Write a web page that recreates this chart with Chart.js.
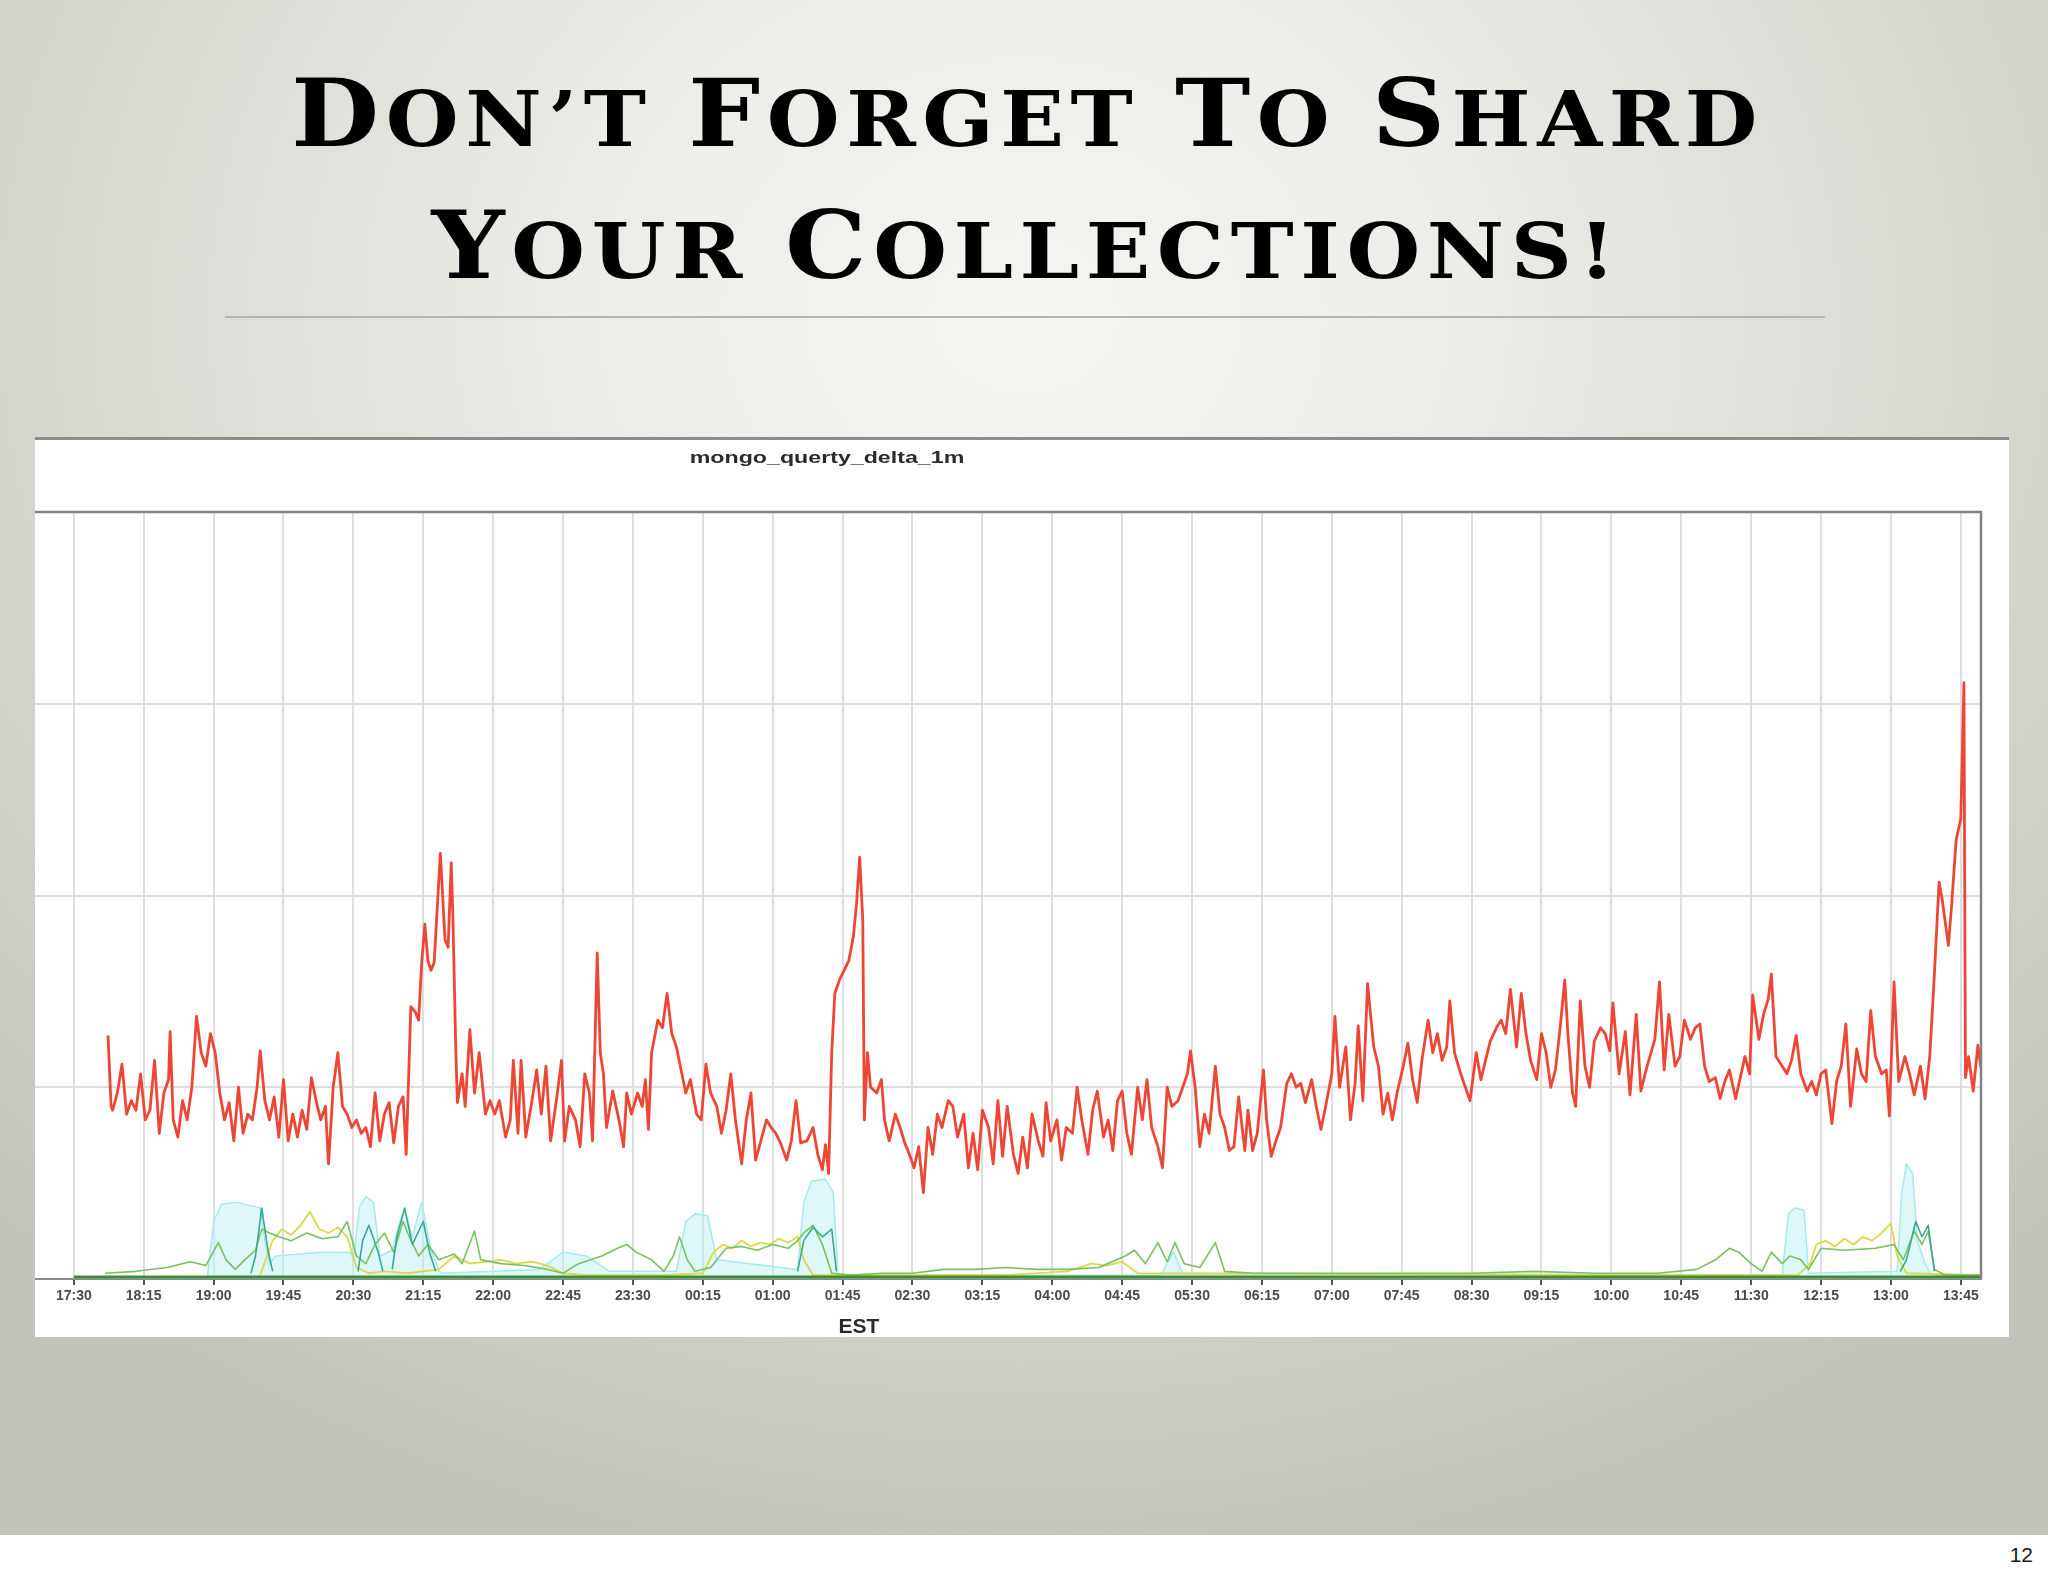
<!DOCTYPE html>
<html>
<head>
<meta charset="utf-8">
<script src="https://cdn.jsdelivr.net/npm/chart.js@4.4.1/dist/chart.umd.min.js"></script>
<style>
  html, body { margin: 0; padding: 0; }
  body {
    width: 2048px; height: 1576px; position: relative; overflow: hidden;
    background: radial-gradient(ellipse 72% 80% at 50% 20%, #f4f4f1 0%, #ecece8 30%, #d8d8d1 65%, #c3c3bb 100%);
  }
  .title { position: absolute; left: 0; top: 0; width: 2048px; text-align: center; white-space: nowrap; }
  .title .line {
    display: inline-block; font-family: "DejaVu Serif", serif; font-weight: bold;
    font-size: 77px; line-height: 1; text-transform: uppercase; color: #000;
    transform-origin: 50% 50%;
  }
  .title .big { font-size: 1.21em; }
  #rule { position: absolute; left: 225px; top: 316px; width: 1600px; height: 2px; background: #b4b4b0; }
  #panel {
    position: absolute; left: 35px; top: 437px; width: 1974px; height: 900px;
    background: #fff; border-top: 3px solid #8c8c8c; box-sizing: border-box;
  }
  #chart { position: absolute; left: 35px; top: 439px; }
  .lbl { position: absolute; top: 0; white-space: nowrap; font-family: "Liberation Sans", Arial, sans-serif; }
  #ctitle { left: 627px; width: 400px; text-align: center; font-size: 16px; font-weight: bold; color: #2a2a2a; transform: scaleX(1.45); }
  #est { left: 759px; width: 200px; text-align: center; font-size: 21px; font-weight: bold; color: #2a2a2a; }
  #foot { position: absolute; left: 0; top: 1535px; width: 2048px; height: 41px; background: #fff; }
  #pagenum { right: 15px; font-size: 21px; color: #1a1a1a; }
</style>
</head>
<body>

<div class="title" id="t1"><span class="line"><span class="big">D</span>on’t <span class="big">F</span>orget <span class="big">T</span>o <span class="big">S</span>hard</span></div>
<div class="title" id="t2"><span class="line"><span class="big">Y</span>our <span class="big">C</span>ollections!</span></div>
<div id="rule"></div>

<div id="panel"></div>
<canvas id="chart" width="1974" height="898"></canvas>
<div class="lbl" id="ctitle">mongo_querty_delta_1m</div>
<div class="lbl" id="est">EST</div>

<div id="foot"></div>
<div class="lbl" id="pagenum">12</div>

<script>
// x = minutes after 17:30, y = queries (grid every 100)
const tickLabels = ['17:30','18:15','19:00','19:45','20:30','21:15','22:00','22:45','23:30','00:15','01:00','01:45','02:30','03:15',
  '04:00','04:45','05:30','06:15','07:00','07:45','08:30','09:15','10:00','10:45','11:30','12:15','13:00','13:45']

const redMin = [
  22,24,25,28,31,34,37,40,43,46,49,52,55,58,61,62,64,67,70,73,76,79,82,85,88,
  91,94,97,100,103,106,109,112,115,118,120,123,126,129,132,135,138,141,144,147,150,153,156,159,162,164,
  167,170,173,176,179,182,185,188,191,194,197,200,203,206,209,212,214,217,220,222,224,226,228,230,232,236,239,241,243,244,
  246,247,250,252,255,258,261,265,268,271,274,278,281,283,286,288,291,295,298,301,304,307,311,314,316,
  319,323,326,329,332,334,337,339,341,343,347,351,354,356,359,363,366,368,370,372,376,379,382,385,388,391,
  394,397,401,404,407,410,414,417,420,423,426,430,433,436,439,443,446,449,452,455,459,462,465,468,
  472,476,479,482,484,486,488,490,493,496,499,502,504,506,508,509,511,513,517,520,522,525,529,532,535,
  538,541,544,547,550,553,556,559,563,566,569,573,576,579,582,585,589,592,595,598,601,605,608,611,
  614,617,621,624,626,629,633,636,639,643,646,649,653,656,659,663,666,669,672,675,678,681,685,688,
  691,694,698,701,704,707,711,714,717,719,722,725,728,731,735,738,741,744,747,750,754,756,759,762,
  766,768,771,774,777,781,784,787,790,793,797,800,803,806,810,812,815,819,822,825,827,830,833,837,840,
  843,846,849,852,856,859,862,865,868,872,875,878,881,884,886,889,893,896,899,903,906,909,912,916,
  919,922,925,929,932,935,938,942,945,948,951,954,957,960,962,965,967,970,973,976,979,983,986,989,991,
  995,999,1002,1006,1009,1013,1018,1021,1024,1027,1031,1034,1037,1041,1044,1047,1050,1053,1057,1060,1063,1066,
  1070,1073,1076,1079,1081,1085,1088,1091,1093,1096,1100,1103,1106,1109,1112,1116,1119,1122,1125,1128,1132,1135,1138,1141,
  1144,1148,1151,1154,1157,1160,1164,1167,1169,1172,1175,1179,1182,1185,1189,1192,1195,1198,1201,1203,1207,1209,1212,1215,1216,1217,1218,1220,1223,1226,1228
]
const redVal = [
  127,90,88,97,112,86,93,88,107,83,88,114,76,97,104,129,83,74,93,83,100,137,118,111,128,
  118,97,83,92,72,100,76,86,83,100,119,93,83,95,74,104,72,86,74,88,78,105,93,83,90,60,
  100,118,90,86,79,83,76,79,69,97,72,86,92,71,90,95,65,142,139,135,165,185,166,161,165,222,177,173,217,191,
  118,92,107,90,130,97,118,86,93,86,93,74,83,114,76,114,74,93,109,86,111,72,95,114,72,
  90,83,69,107,97,72,170,118,107,79,98,83,69,97,86,97,90,104,78,118,135,131,149,128,121,109,
  97,104,86,83,112,97,90,76,88,107,83,60,83,97,62,74,83,79,76,71,62,72,93,71,
  72,79,65,57,70,55,118,149,156,161,166,179,196,220,187,83,118,100,97,104,83,72,86,79,71,
  65,58,69,45,79,65,86,79,93,90,74,86,58,76,57,88,79,60,93,64,90,65,55,74,
  58,86,72,64,92,72,83,62,79,76,100,83,65,88,98,74,83,67,93,98,76,65,100,83,
  104,79,69,58,100,90,93,100,107,119,100,69,86,76,111,86,79,67,69,95,67,88,67,76,
  109,83,64,72,79,102,107,100,102,92,104,90,78,90,107,137,100,121,83,102,132,93,154,121,111,
  86,97,83,97,111,123,104,92,114,135,118,128,114,121,145,118,107,100,93,118,104,114,124,131,
  135,128,151,121,149,128,114,104,128,118,100,109,131,156,128,97,90,145,111,100,124,131,128,119,144,
  107,129,96,138,98,111,125,155,109,138,111,116,135,125,131,133,111,103,105,94,103,109,
  94,105,116,107,148,125,138,146,159,116,111,107,114,127,107,98,103,96,107,109,81,103,111,133,
  90,120,107,103,140,116,107,109,85,155,103,116,107,96,111,94,116,159,207,198,174,194,229,240,274,311,105,116,98,122,110
]

const greenMin = [20,40,60,75,85,93,98,104,110,117,121,126,132,140,150,160,170,176,182,188,194,200,206,212,216,222,228,235,245,250,
  258,262,275,290,305,315,325,340,350,356,362,372,380,386,390,395,400,410,420,430,440,450,460,466,470,476,482,488,500,520,
  540,560,580,600,620,640,660,677,683,690,698,704,709,715,725,735,741,760,800,850,900,940,980,1020,1045,1057,1066,1072,1080,1087,
  1093,1100,1105,1112,1117,1125,1140,1160,1172,1178,1185,1190,1194,1198,1205,1228]
const greenVal = [3,4,6,9,7,19,10,5,10,15,26,24,22,20,24,21,22,30,12,8,18,24,14,30,22,12,18,10,13,8,
  25,10,8,7,5,3,8,12,16,18,14,10,4,12,22,10,4,6,16,17,15,18,16,20,24,28,18,3,2,3,
  3,5,5,6,5,5,6,12,15,8,19,9,19,8,6,19,4,3,3,3,3,4,3,3,5,10,16,14,8,4,
  14,8,12,10,5,16,15,16,18,10,25,18,25,5,2,2]

const yellowMin = [120,128,134,140,146,152,158,164,170,176,182,190,200,215,235,245,255,265,275,285,
  295,305,315,330,380,405,412,418,424,430,436,442,448,454,460,466,470,476,600,640,
  655,665,675,685,1000,1110,1118,1122,1128,1134,1140,1146,1152,1158,1164,1170,1174,1180,1228]
const yellowVal = [2,20,26,23,28,35,26,24,27,22,6,3,4,3,5,12,8,9,10,8,
  9,7,3,2,2,3,14,18,16,20,17,19,18,21,19,22,10,2,2,4,
  8,7,9,3,2,2,8,18,20,17,21,18,22,20,24,29,12,3,2]

const cyanMin = [0,86,90,95,105,115,120,123,126,130,160,178,180,184,188,193,197,205,210,213,
  218,224,230,236,300,315,330,345,388,394,400,408,414,466,470,475,484,489,492,700,
  708,714,1100,1104,1108,1114,1117,1174,1177,1180,1184,1187,1192,1196,1228]
const cyanVal = [1,1,30,39,40,38,37,20,8,12,14,14,10,38,43,40,12,15,30,36,
  22,40,15,3,5,14,12,4,4,30,34,33,10,5,40,51,52,45,2,2,
  14,3,2,34,37,36,3,4,45,60,55,20,8,2,1]

const tealMin = [114,117,121,125,128,129,183,186,190,196,199,200,205,208,213,218,225,229,233,234,
  466,470,476,482,488,491,492,1176,1180,1186,1190,1194,1198]
const tealVal = [3,12,37,15,4,null,4,20,28,14,4,null,5,22,37,18,30,14,4,null,
  4,20,27,22,26,4,null,4,10,30,22,28,4]

const baseMin = [0,300,600,900,1228]
const baseVal = [1,1,1,1,1]

function pts(mins, vals) {
  return mins.map((m, i) => ({x: m, y: vals[i]}))
}

const frame = {
  id: 'frame',
  afterDatasetsDraw(chart) {
    const ctx = chart.ctx, a = chart.chartArea
    ctx.save()
    ctx.strokeStyle = '#828282'
    ctx.lineWidth = 2.5
    ctx.beginPath()
    ctx.moveTo(a.left, a.top)
    ctx.lineTo(a.right, a.top)
    ctx.lineTo(a.right, a.bottom)
    ctx.stroke()
    ctx.restore()
  }
}

let ctx = document.getElementById('chart').getContext('2d')
new Chart(ctx, {
  type: 'line',
  data: {
    datasets: [
      { data: pts(redMin, redVal), borderColor: '#ee4634', borderWidth: 2.8 },
      { data: pts(baseMin, baseVal), borderColor: '#3c8c34', borderWidth: 3 },
      { data: pts(tealMin, tealVal), borderColor: '#3aa892', borderWidth: 1.6, spanGaps: false },
      { data: pts(greenMin, greenVal), borderColor: '#78c060', borderWidth: 1.6 },
      { data: pts(yellowMin, yellowVal), borderColor: '#dcd84a', borderWidth: 1.8 },
      { data: pts(cyanMin, cyanVal), borderColor: '#a4eaf0', borderWidth: 1.5,
        fill: 'origin', backgroundColor: 'rgba(190,242,246,0.5)' }
    ]
  },
  options: {
    responsive: false,
    animation: false,
    layout: { padding: { top: 73, right: 28, left: 0, bottom: 0 } },
    plugins: { legend: { display: false }, tooltip: { enabled: false }, title: { display: false } },
    elements: { point: { radius: 0 }, line: { tension: 0, borderJoinStyle: 'round' } },
    scales: {
      x: {
        type: 'linear', min: -25, max: 1228,
        afterBuildTicks: s => { s.ticks = tickLabels.map((l, i) => ({value: i * 45})) },
        afterFit: s => { s.height = 58 },
        ticks: {
          autoSkip: false, maxRotation: 0, padding: 3, color: '#4a4a4a',
          font: { family: 'Liberation Sans', size: 14, weight: 'bold' },
          callback: v => tickLabels[Math.round(v / 45)]
        },
        grid: { color: '#dedede', lineWidth: 2, tickLength: 6, tickColor: '#555', tickWidth: 2 },
        border: { color: '#8a8a8a', width: 2 }
      },
      y: {
        min: 0, max: 400,
        afterFit: s => { s.width = 0 },
        ticks: { display: false, stepSize: 100 },
        grid: { color: '#dedede', lineWidth: 2, drawTicks: false },
        border: { display: false }
      }
    }
  },
  plugins: [frame]
})

// put a text's baseline at y
function setBaseline(box, inner, y) {
  let m = document.createElement('span')
  m.style.cssText = 'display:inline-block;width:0;height:0;vertical-align:baseline'
  inner.appendChild(m)
  let b = m.getBoundingClientRect().top
  inner.removeChild(m)
  box.style.top = (parseFloat(getComputedStyle(box).top) + y - b) + 'px'
}

// widen the glyphs (the slide font is a wide copperplate) and keep a small gap
function fitWidth(line, target) {
  let ls = 6
  line.style.letterSpacing = ls + 'px'
  line.style.paddingLeft = ls + 'px'
  let w = line.getBoundingClientRect().width - 2 * ls
  line.style.transform = 'scaleX(' + (target / w) + ')'
}

let l1 = document.querySelector('#t1 .line'), l2 = document.querySelector('#t2 .line')
fitWidth(l1, 1466)
fitWidth(l2, 1184)
setBaseline(document.getElementById('t1'), l1, 146)
setBaseline(document.getElementById('t2'), l2, 278)
let ct = document.getElementById('ctitle')
setBaseline(ct, ct, 463)
let est = document.getElementById('est')
setBaseline(est, est, 1333)
let pn = document.getElementById('pagenum')
setBaseline(pn, pn, 1562)
</script>
</body>
</html>
